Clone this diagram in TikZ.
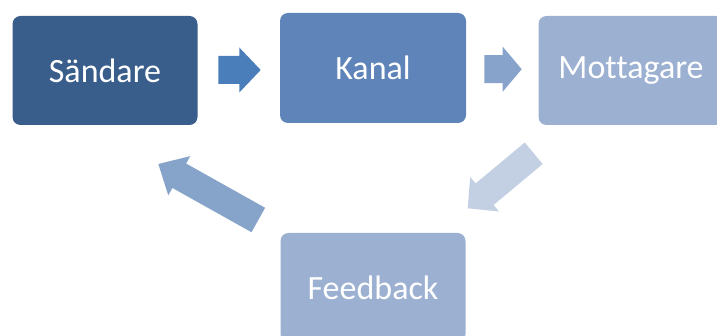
\documentclass[tikz,border=0pt]{standalone}
\usepackage{fontspec}
\setmainfont[RawFeature={-liga;-clig;-dlig;-calt}]{Carlito}
\definecolor{cSand}{HTML}{3A5E8B}
\definecolor{cKanal}{HTML}{5F84B9}
\definecolor{cLight}{HTML}{9CB0D2}
\definecolor{aOne}{HTML}{4A7EBB}
\definecolor{aTwo}{HTML}{87A2CB}
\definecolor{aThree}{HTML}{C3CFE3}
\definecolor{aFour}{HTML}{86A3CA}
% block arrow: colour, tail x, tail y, angle, length, head length
\newcommand\blockarrow[6]{%
  \fill[#1, shift={(#2,#3)}, rotate=#4]
    (0,-14) -- ({#5-#6},-14) -- ({#5-#6},-22.5) -- (#5,0) --
    ({#5-#6},22.5) -- ({#5-#6},14) -- (0,14) -- cycle;}
\begin{document}
\begin{tikzpicture}[x=1pt,y=-1pt,
  box/.style={rounded corners=8pt, minimum width=185pt, minimum height=109pt,
    text=white, font=\fontsize{34}{40}\selectfont, inner sep=0pt}]
\useasboundingbox (0,0) rectangle (717,336);
\clip (0,0) rectangle (717,336);
\node[box, fill=cSand]  (s) at (105,70.5)   {Sändare};
\node[box, fill=cKanal, minimum width=186pt, minimum height=110pt] (k) at (373,68) {Kanal};
\node[box, fill=cLight] (m) at (631,70.5)   {Mottagare};
\node[box, fill=cLight] (f) at (373,287.5)  {Feedback};
\blockarrow{aOne}{218.3}{70}{0}{42.4}{21.4}
\blockarrow{aTwo}{484.3}{69.2}{0}{37.4}{19}
\blockarrow{aThree}{533.7}{153.3}{219.8}{85.9}{22}
\blockarrow{aFour}{258.3}{220}{150.75}{114.6}{24}
\end{tikzpicture}
\end{document}
